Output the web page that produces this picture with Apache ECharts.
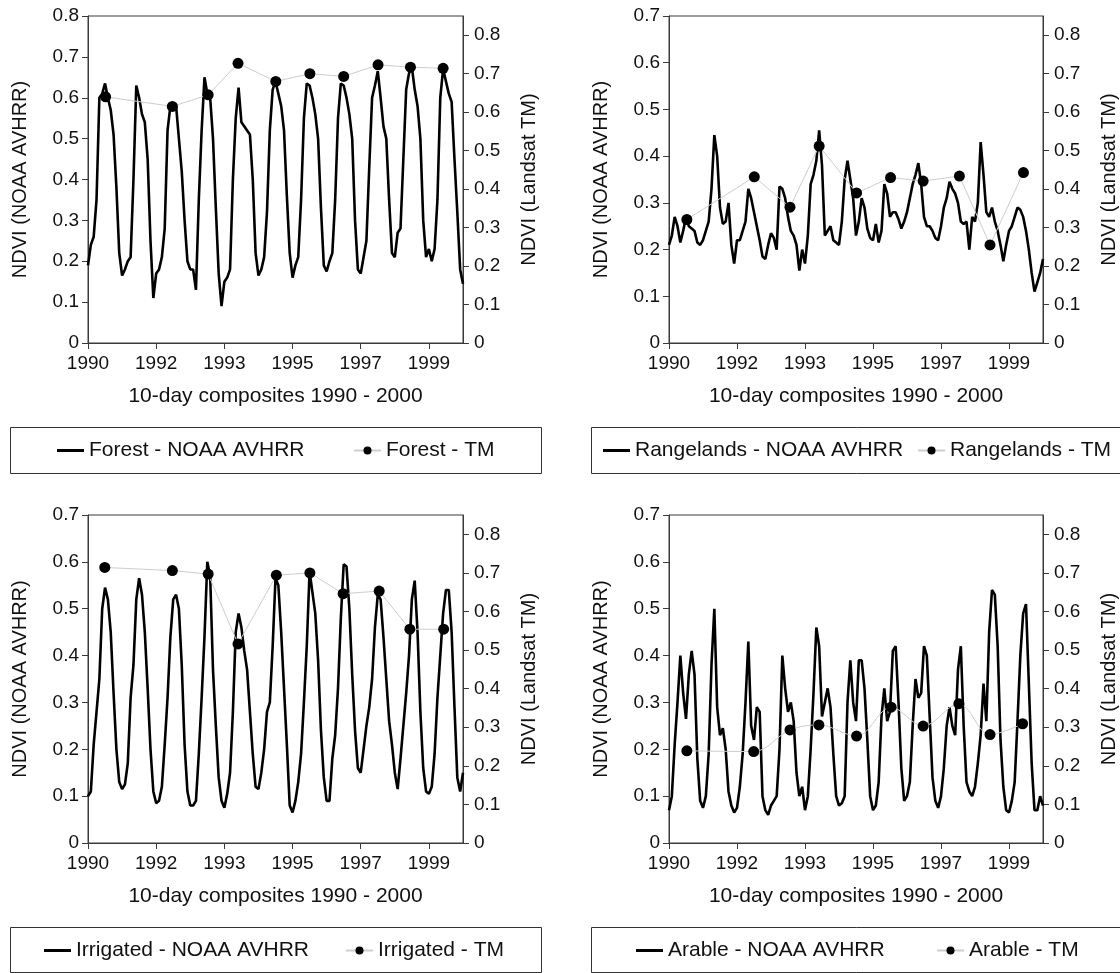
<!DOCTYPE html>
<html>
<head>
<meta charset="utf-8">
<script src="https://cdn.jsdelivr.net/npm/echarts@6/dist/echarts.min.js"></script>
<style>
html,body{margin:0;padding:0;background:#fff;}
#chart{width:1120px;height:973px;}
</style>
</head>
<body>
<div id="chart"></div>
<script>
// x positions are month indices (0 = start of 1990); ticks every 24 months
const tickLabels = ['1990','1992','1993','1995','1997','1999'];
const xAxisTitle = '10-day composites 1990 - 2000';
const leftAxisTitle = 'NDVI (NOAA AVHRR)';
const rightAxisTitle = 'NDVI (Landsat TM)';

const forestAvhrr = [0.19,0.24,0.26,0.35,0.60,0.61,0.635,0.60,0.57,0.51,0.38,0.22,
 0.165,0.18,0.20,0.21,0.40,0.63,0.60,0.56,0.54,0.45,0.25,0.11,
 0.17,0.18,0.21,0.28,0.52,0.58,0.58,0.58,0.50,0.42,0.30,0.20,
 0.18,0.18,0.13,0.35,0.52,0.65,0.61,0.60,0.50,0.33,0.17,0.09,
 0.15,0.16,0.18,0.40,0.55,0.625,0.54,0.53,0.52,0.51,0.40,0.22,
 0.165,0.18,0.21,0.32,0.52,0.62,0.64,0.61,0.58,0.52,0.36,0.22,
 0.16,0.19,0.21,0.35,0.55,0.635,0.63,0.60,0.56,0.50,0.33,0.19,
 0.175,0.20,0.22,0.35,0.55,0.635,0.63,0.60,0.56,0.50,0.30,0.18,
 0.17,0.21,0.25,0.43,0.60,0.63,0.665,0.60,0.53,0.50,0.35,0.22,
 0.21,0.27,0.28,0.45,0.62,0.66,0.675,0.62,0.58,0.50,0.30,0.21,
 0.23,0.20,0.23,0.35,0.60,0.67,0.64,0.61,0.59,0.45,0.32,0.18,
 0.145];
const forestTmX = [6.2,29.7,42.3,52.8,66.1,78.1,90.0,102.1,113.5,125.0];
const forestTmY = [0.64,0.615,0.645,0.727,0.68,0.70,0.693,0.723,0.717,0.714];

const rangeAvhrr = [0.21,0.23,0.27,0.25,0.215,0.24,0.27,0.25,0.245,0.24,0.215,0.21,
 0.22,0.24,0.26,0.33,0.445,0.40,0.29,0.255,0.26,0.30,0.21,0.17,
 0.22,0.22,0.24,0.26,0.33,0.31,0.28,0.25,0.22,0.185,0.18,0.21,
 0.235,0.225,0.20,0.335,0.33,0.31,0.27,0.24,0.23,0.21,0.155,0.20,
 0.17,0.23,0.34,0.36,0.39,0.455,0.38,0.23,0.24,0.25,0.22,0.215,
 0.21,0.26,0.35,0.39,0.35,0.31,0.23,0.26,0.31,0.29,0.245,0.225,
 0.22,0.255,0.215,0.24,0.34,0.32,0.27,0.28,0.28,0.265,0.245,0.26,
 0.28,0.31,0.34,0.36,0.385,0.34,0.27,0.25,0.25,0.24,0.225,0.22,
 0.25,0.29,0.31,0.345,0.33,0.32,0.30,0.26,0.255,0.26,0.20,0.27,
 0.26,0.30,0.43,0.36,0.28,0.27,0.29,0.26,0.24,0.21,0.175,0.21,
 0.24,0.25,0.27,0.29,0.285,0.27,0.24,0.20,0.15,0.11,0.13,0.15,
 0.18];
const rangeTmX = [6.3,30.1,42.7,53.0,66.2,78.2,89.7,102.5,113.3,125.1];
const rangeTmY = [0.321,0.432,0.353,0.512,0.39,0.43,0.421,0.434,0.255,0.443];

const irrAvhrr = [0.10,0.11,0.21,0.28,0.35,0.50,0.545,0.52,0.45,0.32,0.20,0.13,
 0.115,0.125,0.17,0.31,0.38,0.52,0.565,0.53,0.45,0.33,0.20,0.11,
 0.085,0.09,0.12,0.21,0.31,0.44,0.52,0.53,0.50,0.38,0.21,0.11,
 0.08,0.08,0.09,0.19,0.31,0.44,0.60,0.57,0.37,0.25,0.14,0.09,
 0.075,0.105,0.15,0.28,0.45,0.49,0.46,0.41,0.37,0.28,0.19,0.12,
 0.115,0.15,0.20,0.28,0.30,0.42,0.565,0.55,0.45,0.33,0.21,0.08,
 0.065,0.09,0.13,0.19,0.30,0.42,0.58,0.535,0.49,0.39,0.24,0.14,
 0.09,0.09,0.18,0.23,0.33,0.48,0.595,0.59,0.50,0.36,0.24,0.16,
 0.15,0.20,0.25,0.29,0.35,0.46,0.53,0.52,0.44,0.35,0.26,0.21,
 0.15,0.115,0.18,0.25,0.32,0.40,0.52,0.56,0.45,0.28,0.16,0.11,
 0.105,0.12,0.19,0.31,0.40,0.49,0.54,0.54,0.45,0.29,0.14,0.11,
 0.15];
const irrTmX = [5.9,29.7,42.3,52.8,66.3,78.1,89.8,102.5,113.3,125.2];
const irrTmY = [0.714,0.706,0.697,0.516,0.694,0.70,0.646,0.653,0.554,0.554];

const arableAvhrr = [0.07,0.10,0.21,0.30,0.40,0.32,0.265,0.36,0.41,0.36,0.18,0.09,
 0.075,0.10,0.19,0.38,0.50,0.29,0.23,0.245,0.20,0.11,0.08,0.065,
 0.075,0.12,0.19,0.30,0.43,0.25,0.22,0.29,0.28,0.10,0.07,0.06,
 0.08,0.09,0.10,0.20,0.40,0.33,0.28,0.30,0.26,0.15,0.10,0.12,
 0.07,0.10,0.20,0.32,0.46,0.42,0.27,0.30,0.33,0.29,0.19,0.10,
 0.08,0.085,0.10,0.30,0.39,0.30,0.26,0.39,0.39,0.33,0.22,0.10,
 0.07,0.08,0.13,0.27,0.33,0.26,0.28,0.41,0.42,0.30,0.16,0.09,
 0.10,0.13,0.25,0.35,0.31,0.32,0.42,0.40,0.27,0.14,0.09,0.075,
 0.10,0.16,0.25,0.29,0.25,0.23,0.37,0.42,0.25,0.13,0.11,0.10,
 0.12,0.17,0.23,0.34,0.26,0.45,0.54,0.53,0.42,0.22,0.12,0.07,
 0.065,0.09,0.13,0.26,0.40,0.49,0.51,0.34,0.17,0.07,0.07,0.10,
 0.08];
const arableTmX = [6.3,29.9,42.7,52.9,66.2,78.4,89.7,102.3,113.3,124.8];
const arableTmY = [0.239,0.237,0.293,0.306,0.277,0.352,0.303,0.361,0.281,0.309];

const panelNames = ['Forest','Rangelands','Irrigated','Arable'];
const leftMaxima = [0.8, 0.7, 0.7, 0.7];

const FONT = '"Liberation Sans", Arial, sans-serif';
const AX = '#3a3a3a';

const panels = [
  {name: panelNames[0], avhrr: forestAvhrr, tmX: forestTmX, tmY: forestTmY, leftMax: leftMaxima[0],
   grid: {left: 88, top: 16, width: 375, height: 327}, legendTop: 440, leg1: 57, leg2: 353, box: [10, 427, 531, 46], smooth: false},
  {name: panelNames[1], avhrr: rangeAvhrr, tmX: rangeTmX, tmY: rangeTmY, leftMax: leftMaxima[1],
   grid: {left: 669, top: 16, width: 376, height: 327}, legendTop: 440, leg1: 603, leg2: 917, box: [591, 427, 545, 46], smooth: false},
  {name: panelNames[2], avhrr: irrAvhrr, tmX: irrTmX, tmY: irrTmY, leftMax: leftMaxima[2],
   grid: {left: 88, top: 515, width: 375, height: 328}, legendTop: 940, leg1: 44, leg2: 345, box: [10, 927, 531, 45], smooth: false},
  {name: panelNames[3], avhrr: arableAvhrr, tmX: arableTmX, tmY: arableTmY, leftMax: leftMaxima[3],
   grid: {left: 669, top: 515, width: 376, height: 328}, legendTop: 940, leg1: 636, leg2: 936, box: [591, 927, 545, 45], smooth: true}
];

const grid = [], xAxis = [], yAxis = [], series = [], legend = [], graphic = [];
const fmt = v => (Math.abs(v) < 1e-9 ? '0' : (v > 0.81 ? '' : v.toFixed(1)));
const tickFont = {color: '#111', fontSize: 19, fontFamily: FONT};

panels.forEach((p, i) => {
  grid.push(Object.assign({show: true, borderColor: AX, borderWidth: 1, containLabel: false}, p.grid));
  xAxis.push({
    gridIndex: i, type: 'value', min: 0, max: 132, interval: 24,
    axisLine: {show: true, lineStyle: {color: AX, width: 1}},
    axisTick: {show: true, length: 6, lineStyle: {color: AX}},
    axisLabel: Object.assign({margin: 11, showMaxLabel: false,
      formatter: v => tickLabels[Math.round(v / 24)] || ''}, tickFont),
    splitLine: {show: false},
    name: xAxisTitle, nameLocation: 'middle', nameGap: 43,
    nameTextStyle: {color: '#111', fontSize: 21, fontFamily: FONT}
  });
  yAxis.push({
    gridIndex: i, type: 'value', min: 0, max: p.leftMax, interval: 0.1, position: 'left',
    axisLine: {show: true, lineStyle: {color: AX, width: 1}},
    axisTick: {show: true, length: 6, lineStyle: {color: AX}},
    axisLabel: Object.assign({margin: 9, formatter: fmt}, tickFont),
    splitLine: {show: false},
    name: leftAxisTitle, nameLocation: 'middle', nameGap: 58, nameRotate: 90,
    nameTextStyle: {color: '#111', fontSize: 20, fontFamily: FONT}
  });
  yAxis.push({
    gridIndex: i, type: 'value', min: 0, max: 0.85, interval: 0.1, position: 'right',
    axisLine: {show: true, lineStyle: {color: AX, width: 1}},
    axisTick: {show: true, length: 6, lineStyle: {color: AX}},
    axisLabel: Object.assign({margin: 11, showMaxLabel: false, formatter: fmt}, tickFont),
    splitLine: {show: false},
    name: rightAxisTitle, nameLocation: 'middle', nameGap: 56, nameRotate: 90,
    nameTextStyle: {color: '#111', fontSize: 20, fontFamily: FONT}
  });
  const n1 = p.name + ' - NOAA AVHRR';
  const n2 = p.name + ' - TM';
  series.push({
    name: n1, type: 'line', xAxisIndex: i, yAxisIndex: 2 * i,
    data: p.avhrr.map((v, k) => [k, v]),
    symbol: 'none', lineStyle: {color: '#000', width: 2.6}, itemStyle: {color: '#000'},
    z: 2
  });
  series.push({
    name: n2, type: 'line', xAxisIndex: i, yAxisIndex: 2 * i + 1,
    data: p.tmX.map((x, k) => [x, p.tmY[k]]),
    symbol: 'circle', symbolSize: 11, smooth: p.smooth ? 0.35 : false,
    itemStyle: {color: '#000'}, lineStyle: {color: '#cdcdcd', width: 1},
    z: 3
  });
  const ts = {color: '#111', fontSize: 21, fontFamily: FONT};
  legend.push({data: [{name: n1, icon: 'rect'}], left: p.leg1, top: p.legendTop, itemWidth: 27, itemHeight: 3,
    textStyle: ts, padding: 0, selectedMode: false});
  legend.push({data: [n2], left: p.leg2, top: p.legendTop, itemWidth: 27, itemHeight: 10,
    textStyle: ts, padding: 0, selectedMode: false});
  graphic.push({type: 'rect', shape: {x: p.box[0] + 0.5, y: p.box[1] + 0.5, width: p.box[2], height: p.box[3]},
    style: {fill: 'none', stroke: '#333', lineWidth: 1}, silent: true});
});

const chart = echarts.init(document.getElementById('chart'), null, {renderer: 'canvas'});
chart.setOption({
  backgroundColor: '#fff',
  animation: false,
  grid, xAxis, yAxis, series, legend, graphic
});
</script>
</body>
</html>
